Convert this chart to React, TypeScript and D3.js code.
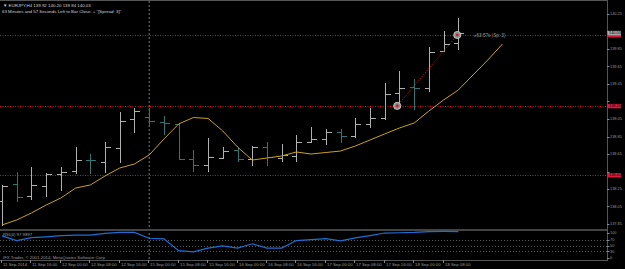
import React from 'react';
import * as d3 from 'd3';

// EURJPY H4 bars, 11 Sep 08:00 .. 18 Sep 12:00
const opens = [138.11, 138.307, 138.17, 138.284, 138.421, 138.456, 138.581, 138.559, 138.719, 139.05,
  139.073, 139.016, 138.993, 138.593, 138.524, 138.604, 138.696, 138.593, 138.73, 138.604,
  138.627, 138.787, 138.821, 138.901, 138.856, 138.993, 139.061, 139.347, 139.416, 139.404,
  139.827, 139.92];
const highs = [138.296, 138.444, 138.501, 138.433, 138.501, 138.73, 138.65, 138.787, 139.13, 139.176,
  139.176, 139.084, 139.004, 138.696, 138.833, 138.73, 138.73, 138.741, 138.787, 138.764,
  138.867, 138.959, 138.936, 138.936, 139.061, 139.176, 139.461, 139.599, 139.507, 139.873,
  140.056, 140.2];
const lows = [137.827, 138.101, 138.124, 138.159, 138.227, 138.421, 138.421, 138.433, 138.547, 138.89,
  138.981, 138.867, 138.581, 138.444, 138.444, 138.593, 138.559, 138.513, 138.513, 138.559,
  138.559, 138.776, 138.753, 138.776, 138.833, 138.947, 139.039, 139.187, 139.153, 139.359,
  139.816, 139.84];
const closes = [138.285, 138.159, 138.296, 138.421, 138.444, 138.581, 138.576, 138.73, 139.027, 139.141,
  139.027, 139.004, 138.593, 138.524, 138.616, 138.684, 138.593, 138.73, 138.616, 138.639,
  138.787, 138.821, 138.901, 138.856, 138.993, 139.061, 139.336, 139.404, 139.404, 139.816,
  139.907, 140.03];

// moving average, drawn 3 bars forward
const maValues = [137.839, 137.896, 137.976, 138.067, 138.147, 138.261, 138.296, 138.399, 138.49, 138.536,
  138.639, 138.821, 138.993, 139.067, 139.056, 138.913, 138.73, 138.581, 138.604, 138.627,
  138.673, 138.65, 138.667, 138.684, 138.741, 138.81, 138.879, 138.947, 139.004, 139.141,
  139.267, 139.381, 139.553, 139.724, 139.907];

const rsiValues = [83, 67, 77, 80, 84, 86, 86, 92, 95, 95,
  75, 73, 32, 28, 41, 49, 41, 56, 41, 41,
  67, 70, 74, 66, 76, 84, 93, 94, 95, 98,
  98.5, 98];

const timeLabels = ['11 Sep 2014', '11 Sep 16:00', '12 Sep 00:00', '12 Sep 08:00', '12 Sep 16:00',
  '15 Sep 00:00', '15 Sep 08:00', '15 Sep 16:00', '16 Sep 00:00', '16 Sep 08:00', '16 Sep 16:00',
  '17 Sep 00:00', '17 Sep 08:00', '17 Sep 16:00', '18 Sep 00:00', '18 Sep 08:00'];
const priceTicks = [140.25, 140.05, 139.85, 139.65, 139.45, 139.25, 139.05, 138.85, 138.65, 138.45,
  138.25, 138.05, 137.85];
const rsiTicks = [100, 70, 50, 30, 0];
const levelLines = [140.01, 139.2, 138.41];
const trade = { openBar: 26.85, openPrice: 139.2, closeBar: 30.93, closePrice: 140.01 };

const font = 'Liberation Sans, Arial, sans-serif';

export default function App() {
  const W = 625;
  const H = 269;
  const right = 607;
  const x = d3.scaleLinear().domain([0, 31]).range([2, 458.3]);
  const y = d3.scaleLinear().domain([137.85, 140.25]).range([224, 14]);
  const yr = d3.scaleLinear().domain([0, 100]).range([260, 231]);

  const maLine = d3.line<number>().x((_, i) => x(i)).y(d => y(d));
  const rsiLine = d3.line<number>().x((_, i) => x(i)).y(d => yr(d));

  const boxed = [...levelLines, closes[31]];
  // tick labels hidden behind the price boxes, as in the terminal
  const visibleTicks = priceTicks.filter(p => boxed.every(b => Math.abs(y(p) - y(b)) > 4.5));

  return (
    <svg width={W} height={H} style={{ position: 'absolute', left: 0, top: 0, background: '#000' }}
      fontFamily={font}>
      <rect width={W} height={H} fill="#000" />

      {/* period separator */}
      <line x1={x(10)} x2={x(10)} y1={1} y2={260} stroke="#7a7a7a" strokeDasharray="2,2" />

      {/* levels */}
      {levelLines.map(p => (
        <line key={p} x1={0} x2={right} y1={Math.round(y(p)) + 0.5} y2={Math.round(y(p)) + 0.5}
          stroke="#d0102c" strokeDasharray="1,1.5" />
      ))}

      {/* bars */}
      {closes.map((c, i) => {
        const xi = Math.round(x(i)) + 0.5;
        const col = c >= opens[i] ? '#b0b0b0' : '#2f7676';
        return (
          <g key={i} stroke={col} strokeWidth={1} shapeRendering="crispEdges">
            <line x1={xi} x2={xi} y1={y(highs[i])} y2={y(lows[i])} />
            <line x1={xi - 5} x2={xi} y1={Math.round(y(opens[i])) + 0.5} y2={Math.round(y(opens[i])) + 0.5} />
            <line x1={xi} x2={xi + 5} y1={Math.round(y(c)) + 0.5} y2={Math.round(y(c)) + 0.5} />
          </g>
        );
      })}

      {/* moving average */}
      <path d={maLine(maValues) || ''} fill="none" stroke="#caa21c" strokeWidth={1} />

      {/* trade line + markers */}
      <line x1={x(trade.openBar)} y1={y(trade.openPrice)} x2={x(trade.closeBar)} y2={y(trade.closePrice)}
        stroke="#d0102c" strokeWidth={1} strokeDasharray="1.2,1.5" />
      {[[trade.openBar, trade.openPrice], [trade.closeBar, trade.closePrice]].map(([b, p], i) => (
        <g key={i}>
          <circle cx={x(b)} cy={y(p)} r={3.6} fill="#8a8a8a" stroke="#d8d8d8" strokeWidth={0.8} />
          <circle cx={x(b)} cy={y(p)} r={1.3} fill="#e0102c" />
        </g>
      ))}
      <text x={474} y={y(trade.closePrice) + 1.5} fontSize={4.6} fill="#9a9a9a">«63:57s (Sp: 3)</text>

      {/* header */}
      <text x={3} y={6.5} fontSize={4.4} fill="#d0d0d0">▼ EURJPY,H4  139.92 140.20 139.84 140.03</text>
      <text x={2} y={12.5} fontSize={4.4} fill="#d0d0d0">63 Minutes and 57 Seconds Left to Bar Close. + "[Spread: 3]"</text>

      {/* frames */}
      <line x1={0} x2={right} y1={0.5} y2={0.5} stroke="#555" />
      <line x1={right + 0.5} x2={right + 0.5} y1={0} y2={261} stroke="#555" />
      <rect x={0} y={229} width={right} height={2} fill="#444" />
      <line x1={0} x2={right} y1={260.5} y2={260.5} stroke="#555" />

      {/* price axis */}
      {priceTicks.map(p => (
        <line key={'t' + p} x1={right} x2={right + 2.5} y1={Math.round(y(p)) + 0.5} y2={Math.round(y(p)) + 0.5} stroke="#888" />
      ))}
      {visibleTicks.map(p => (
        <text key={p} x={610} y={y(p) + 1.3} fontSize={3.9} fill="#9a9a9a">{p.toFixed(2)}</text>
      ))}
      {levelLines.map(p => (
        <g key={'b' + p}>
          <rect x={right + 0.5} y={y(p) - 2} width={13.5} height={4.4} fill="#e01a3c" />
          {p !== levelLines[0] && (
            <text x={609} y={y(p) + 1.4} fontSize={3.9} fill="#000">{p.toFixed(2)}</text>
          )}
        </g>
      ))}
      <rect x={right + 0.5} y={y(closes[31]) - 2.4} width={13.5} height={4.4} fill="#a8a8a8" />
      <text x={609} y={y(closes[31]) + 1.1} fontSize={3.9} fill="#000">{closes[31].toFixed(2)}</text>

      {/* RSI window */}
      {[70, 50, 30].map(v => (
        <line key={v} x1={0} x2={right} y1={Math.round(yr(v)) + 0.5} y2={Math.round(yr(v)) + 0.5}
          stroke="#5a5a5a" strokeDasharray="1,2" />
      ))}
      <path d={rsiLine(rsiValues) || ''} fill="none" stroke="#1d6fd4" strokeWidth={1.2} />
      <text x={3} y={236} fontSize={4.3} fill="#9a9a9a">RSI(4) 97.9897</text>
      <text x={3} y={258.5} fontSize={4.3} fill="#9a9a9a">IFX Trader, © 2001-2014, MetaQuotes Software Corp.</text>
      {rsiTicks.map(v => {
        const ty = Math.min(Math.max(yr(v), 233), 258);
        return (
          <g key={'r' + v}>
            <line x1={right} x2={right + 2.5} y1={Math.round(ty) + 0.5} y2={Math.round(ty) + 0.5} stroke="#888" />
            <text x={610} y={ty + 1.3} fontSize={3.9} fill="#9a9a9a">{v}</text>
          </g>
        );
      })}

      {/* time axis */}
      {timeLabels.map((t, i) => {
        const xi = Math.round(x(i * 2)) - 0.5;
        return (
          <g key={t}>
            <line x1={xi} x2={xi} y1={260} y2={263} stroke="#888" />
            <text x={xi + 1.5} y={266} fontSize={4.3} fill="#9a9a9a">{t}</text>
          </g>
        );
      })}
    </svg>
  );
}
